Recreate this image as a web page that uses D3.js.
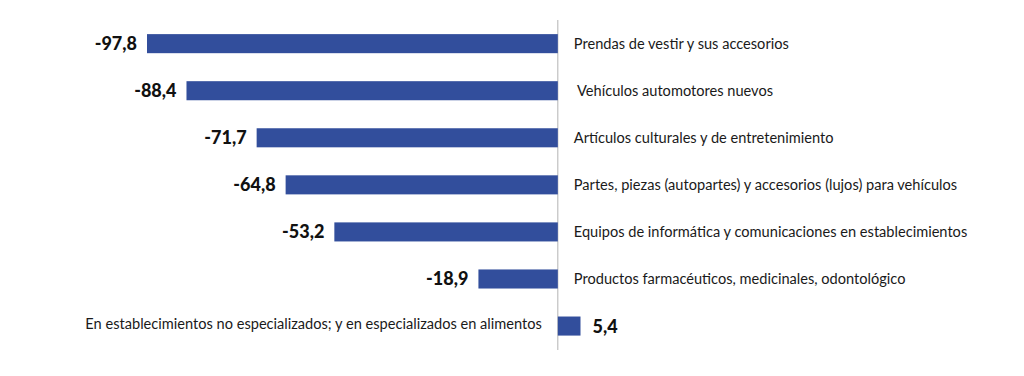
<!DOCTYPE html>
<meta charset="utf-8">
<style>
 body { margin: 0; background: #fff; }
 .bar { fill: #324e9c; }
 .cat { font-family: Lato, sans-serif; font-size: 14.6px; fill: #1a1a1a; white-space: pre; }
 .val { font-family: Lato, sans-serif; font-size: 18px; font-weight: 900; fill: #111; }
 .zero { stroke: #b3b3b3; stroke-width: 1px; }
</style>

<svg class="chart"></svg>

<script src="https://cdn.jsdelivr.net/npm/d3@7"></script>
<script>

 var categories = [
     "Prendas de vestir y sus accesorios",
     " Vehículos automotores nuevos",
     "Artículos culturales y de entretenimiento",
     "Partes, piezas (autopartes) y accesorios (lujos) para vehículos",
     "Equipos de informática y comunicaciones en establecimientos",
     "Productos farmacéuticos, medicinales, odontológico",
     "En establecimientos no especializados; y en especializados en alimentos"
 ];
 var values = [-97.8, -88.4, -71.7, -64.8, -53.2, -18.9, 5.4];

 var width = 1024, height = 376;

 var svg = d3.select(".chart").attr("width", width).attr("height", height);

 var x = d3.scaleLinear().domain([-97.8, 5.4]).range([147, 580.5]);

 var y = d3.scaleBand().domain(d3.range(categories.length))
           .range([20, 349.7]).paddingInner(0.595).paddingOuter(0.3);

 var fmt = function(v) { return d3.format(".1f")(v).replace(".", ",").replace("−", "-"); };

 svg.append("line").attr("class", "zero")
    .attr("x1", x(0)).attr("x2", x(0))
    .attr("y1", 20).attr("y2", 350);

 var row = svg.selectAll(".row").data(values).enter()
              .append("g").attr("class", "row");

 row.append("rect").attr("class", "bar")
    .attr("x", function(d) { return x(Math.min(0, d)); })
    .attr("width", function(d) { return Math.abs(x(d) - x(0)); })
    .attr("y", function(d, i) { return y(i); })
    .attr("height", y.bandwidth());

 row.append("text").attr("class", "val")
    .attr("x", function(d) { return d < 0 ? x(d) - 10 : x(d) + 12; })
    .attr("y", function(d, i) { return y(i) + y.bandwidth() / 2; })
    .attr("dy", "0.36em")
    .attr("text-anchor", function(d) { return d < 0 ? "end" : "start"; })
    .text(function(d) { return fmt(d); });

 row.append("text").attr("class", "cat")
    .attr("x", function(d) { return d < 0 ? x(0) + 16 : x(0) - 16; })
    .attr("y", function(d, i) { return y(i) + y.bandwidth() / 2 + (d < 0 ? 0 : -2); })
    .attr("dy", "0.35em")
    .attr("text-anchor", function(d) { return d < 0 ? "start" : "end"; })
    .text(function(d, i) { return categories[i]; });

</script>
